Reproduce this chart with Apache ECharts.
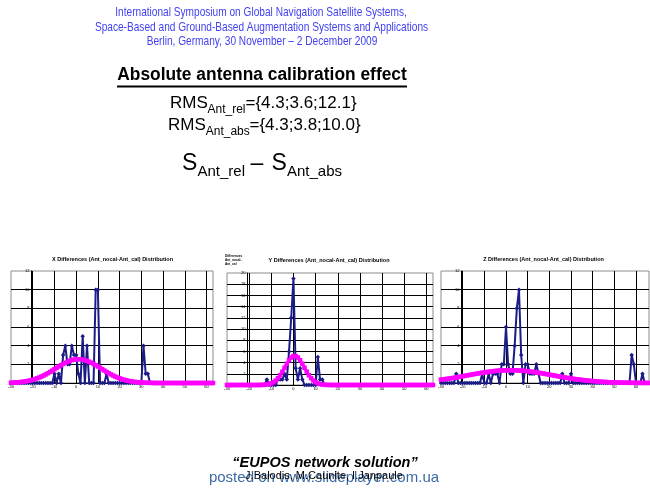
<!DOCTYPE html>
<html><head><meta charset="utf-8">
<script src="https://cdn.jsdelivr.net/npm/echarts/dist/echarts.min.js"></script>
<style>html,body{margin:0;padding:0;background:#fff}#c{width:650px;height:488px}</style>
</head><body><div id="c"></div>
<script>
// ---- data ----
const xStart = -30;
const xEndXY = 63;
const xEndZ = 66;
const chartTitles = [
  'X Differences (Ant_nocal-Ant_cal) Distribution',
  'Y Differences (Ant_nocal-Ant_cal) Distribution',
  'Z Differences (Ant_nocal-Ant_cal) Distribution'
];
const yMaxes = [12, 20, 12];
// X differences: observed counts (blue) and fitted normal curve (magenta), x = -30..63
const xBlue = [0,0,0,0,0,0,0,0,0,0, 0,0,0,0,0,0,0,0,0,0,
  1,0,1,0,3,4,2,2,4,3, 3,1,0,5,0,4,0,0,0,10, 10,0,0,0,1,
  0,0,0,0,0,0,0,0,0,0,0,0,0,0,0,0,
  4,1,1,0,
  0,0,0,0,0,0,0,0,0,0,0,0,0,0,0,0,0,0,0,0,0,0,0,0,0,0,0,0,0];
const xFit = [0.03,0.04,0.06,0.07,0.09,0.12,0.15,0.19,0.23,0.28,
  0.35,0.42,0.50,0.59,0.69,0.80,0.92,1.05,1.19,1.33,
  1.47,1.62,1.77,1.91,2.04,2.17,2.28,2.37,2.45,2.50,
  2.54,2.55,2.54,2.50,2.45,2.37,2.28,2.17,2.04,1.91,
  1.77,1.62,1.47,1.33,1.19,1.05,0.92,0.80,0.69,0.59,
  0.50,0.42,0.35,0.28,0.23,0.19,0.15,0.12,0.09,0.07,
  0.06,0.04,0.03,0.02,0.02,0.01,0,0,0,0,
  0,0,0,0,0,0,0,0,0,0,0,0,0,0,0,0,0,0,0,0,0,0,0,0];
// Y differences, x = -30..63
const yBlue = [0,0,0,0,0,0,0,0,0,0,0,0,0,0,0,0,0,0,
  1,0,0,0,0,
  1,1,1,2,1,6,12,19,3,1,3,1,0,0,0,0,0,0,5,1,1,0,
  0,0,0,0,0,0,0,0,0,0,0,0,0,0,0,0,0,0,0,0,0,0,0,0,0,
  0,0,0,0,0,0,0,0,0,0,0,0,0,0,0,0,0,0,0,0,0,0,0,0];
const yFit = [0,0,0,0,0,0,0,0,0,0,0,0,0,0,0,
  0.01,0.02,0.05,0.09,0.17,0.30,0.50,0.80,1.21,1.74,2.38,3.08,3.79,4.43,4.91,5.17,
  5.17,4.91,4.43,3.79,3.08,2.38,1.74,1.21,0.80,0.50,0.30,0.17,0.09,0.05,0.02,0.01,
  0,0,0,0,0,0,0,0,0,0,0,0,0,0,0,0,0,0,0,0,0,0,0,0,
  0,0,0,0,0,0,0,0,0,0,0,0,0,0,0,0,0,0,0,0,0,0,0];
// Z differences, x = -30..66
const zBlue = [0,0,0,0,0,0,0, 1, 0,0,0,0,0,0,0,0,0,0,0,
  1,0,0,1,0,1,1,1,0,2,2,6,2,1,1,4,8,10,3,0,2,2,1,1,1,2,1,0,
  0,0,0,0,0,0,0,0,0, 1, 0,0,0, 1,
  0,0,0,0,0,0,0,0,0,0,0,0,0,0,0,0,0,0,0,0,0,0,0,0,0,0,0,
  3,2,0,0,0,1, 0,0,0];
const zFit = [0.36,0.39,0.42,0.45,0.49,0.52,0.56,0.60,0.64,0.68,
  0.72,0.77,0.81,0.85,0.89,0.94,0.98,1.02,1.06,1.10,
  1.13,1.17,1.20,1.23,1.26,1.29,1.31,1.33,1.34,1.35,
  1.36,1.37,1.37,1.37,1.36,1.35,1.34,1.33,1.31,1.29,
  1.26,1.23,1.20,1.17,1.13,1.10,1.06,1.02,0.98,0.94,
  0.89,0.85,0.81,0.77,0.72,0.68,0.64,0.60,0.56,0.52,
  0.49,0.45,0.42,0.39,0.36,0.33,0.30,0.27,0.25,0.23,
  0.21,0.19,0.17,0.15,0.13,0.12,0.11,0.09,0.08,0.07,
  0.07,0.06,0.05,0.04,0.04,0.03,0.03,0.02,0.02,0.02,
  0.01,0.01,0.01,0.01,0.01,0.01,0.00];

// ---- build ----
function pairs(vals){ return vals.map((v,i)=>[xStart+i, v]); }
const FONT = '"Liberation Sans", Arial, sans-serif';
const grids = [
  {left: 11, top: 271, width: 202, height: 112},
  {left: 227, top: 273, width: 206, height: 112},
  {left: 441, top: 271, width: 208, height: 112}
];
const xMaxes = [xEndXY, xEndXY, xEndZ];
const blues = [xBlue, yBlue, zBlue];
const fits = [xFit, yFit, zFit];

function T(text, x, y, size, opts){
  opts = opts || {};
  return {type:'text', x:x, y:y, silent:true, z:100, scaleX: opts.sx || 1,
    style:{text:text, fill: opts.color || '#000',
      font: (opts.style||'') + ' ' + (opts.weight||'normal') + ' ' + size + 'px ' + FONT,
      textAlign: opts.align || 'left', align: opts.align || 'left',
      textVerticalAlign:'middle', verticalAlign:'middle'}};
}

const HDR = '#4242f0';
const graphic = [
  T('International Symposium on Global Navigation Satellite Systems,', 261, 12.5, 13.5, {align:'center', color:HDR, sx:0.75}),
  T('Space-Based and Ground-Based Augmentation Systems and Applications', 261.5, 27, 13.5, {align:'center', color:HDR, sx:0.75}),
  T('Berlin, Germany, 30 November \u2013 2 December 2009', 262, 41.5, 13.5, {align:'center', color:HDR, sx:0.75}),
  T('Absolute antenna calibration effect', 262, 75, 18, {align:'center', weight:'bold', sx:0.965}),
  {type:'line', silent:true, shape:{x1:117, y1:86.5, x2:407, y2:86.5}, style:{stroke:'#000', lineWidth:2}},
  T('RMS', 170, 103, 17), T('Ant_rel', 207.5, 109.5, 12), T('={4.3;3.6;12.1}', 245.5, 103, 17),
  T('RMS', 168, 125, 17), T('Ant_abs', 205.7, 132, 12), T('={4.3;3.8;10.0}', 249.5, 125, 17),
  T('S', 182, 163.5, 23), T('Ant_rel', 197.5, 172, 15), T('\u2013', 257, 164, 23, {align:'center'}),
  T('S', 271.5, 163.5, 23), T('Ant_abs', 287, 172, 15),
  T(chartTitles[0], 112.5, 259, 5.5, {align:'center', weight:'bold'}),
  T(chartTitles[1], 329, 260, 5.5, {align:'center', weight:'bold'}),
  T(chartTitles[2], 543.5, 259, 5.5, {align:'center', weight:'bold'}),
  {type:'text', x:225, y:254.5, silent:true, z:100, style:{text:'Differences\nAnt_nocal-\nAnt_cal', fill:'#000', font:'bold 3.2px ' + FONT, lineHeight:4, textVerticalAlign:'top', verticalAlign:'top'}},
  T('\u201CEUPOS network solution\u201D', 325, 463, 14.5, {align:'center', weight:'bold', style:'italic'}),
  T('posted on www.slideplayer.com.ua', 324, 478, 15, {align:'center', color:'#3b6aa5'}),
  T('J.Balodis, M.Caunite, I.Janpaule', 324, 476, 11, {align:'center'})
];

const option = {
  animation: false,
  backgroundColor: '#fff',
  graphic: graphic,
  grid: grids.map(g => Object.assign({show:true, borderColor:'#8c8c8c', borderWidth:1, backgroundColor:'#fff', containLabel:false, outerBoundsMode:'none'}, g)),
  xAxis: grids.map((g,i) => ({
    type:'value', gridIndex:i, min:xStart, max:xMaxes[i], interval:10,
    axisLine:{show:true, onZero:false, lineStyle:{color:'#000', width:1}},
    axisTick:{show:false},
    axisLabel:{fontSize:4, margin:2, color:'#000', fontFamily:FONT, showMaxLabel:false, hideOverlap:false},
    splitLine:{show:true, showMinLine:false, showMaxLine:false, lineStyle:{color:'#000', width:1}}
  })),
  yAxis: grids.map((g,i) => ({
    type:'value', gridIndex:i, min:0, max:yMaxes[i], interval:2, offset:-20,
    axisLine:{show:true, onZero:false, lineStyle:{color:'#000', width:1}},
    axisTick:{show:false},
    axisLabel:{fontSize:4, margin:1.5, color:'#000', fontFamily:FONT, hideOverlap:false},
    splitLine:{show:true, showMinLine:false, showMaxLine:false, lineStyle:{color:'#000', width:1}}
  })),
  series: []
};
for (let i = 0; i < 3; i++) {
  option.series.push({
    type:'line', xAxisIndex:i, yAxisIndex:i, data:pairs(blues[i]),
    symbol:'diamond', symbolSize:4.5, showSymbol:true, z:3,
    itemStyle:{color:'#1c1c86'}, lineStyle:{color:'#1c1c86', width:2}
  });
  option.series.push({
    type:'line', xAxisIndex:i, yAxisIndex:i, data:pairs(fits[i]),
    symbol:'rect', symbolSize:4.5, showSymbol:true, z:4,
    itemStyle:{color:'#ff00ff'}, lineStyle:{color:'#ff00ff', width:3}
  });
}
const chart = echarts.init(document.getElementById('c'), null, {renderer:'canvas'});
chart.setOption(option);
</script>
</body></html>
